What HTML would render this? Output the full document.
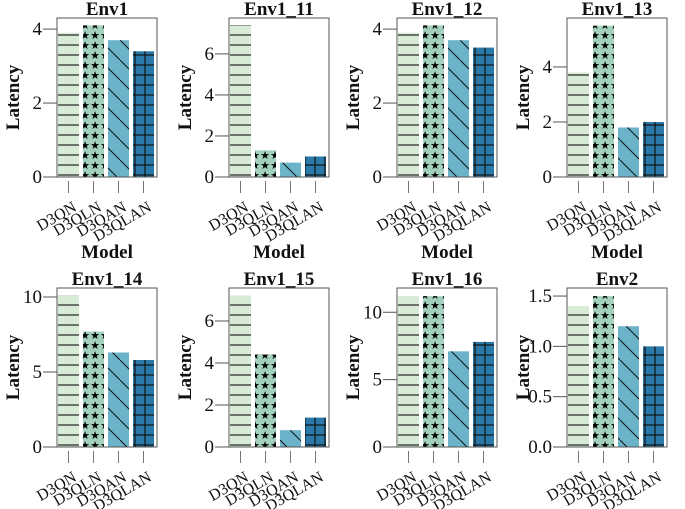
<!DOCTYPE html>
<html><head><meta charset="utf-8"><style>
body{margin:0;background:#fff;}
svg{display:block;}
text{font-family:"Liberation Serif","Times New Roman",serif;}
</style></head><body>
<svg id="c" width="685" height="509" viewBox="0 0 685 509">
<defs>
<pattern id="pH" width="10" height="10" patternUnits="userSpaceOnUse"><rect width="10" height="10" fill="#d8ebd6"/><line x1="0" y1="5" x2="10" y2="5" stroke="#222" stroke-width="1.2"/></pattern>
<pattern id="pS" width="10" height="10" patternUnits="userSpaceOnUse"><rect width="10" height="10" fill="#a3d1be"/><text x="5" y="9" font-size="11" text-anchor="middle" fill="#000">★</text></pattern>
<pattern id="pD" width="20" height="20" patternUnits="userSpaceOnUse"><rect width="20" height="20" fill="#6ab3c9"/><line x1="0" y1="0" x2="20" y2="20" stroke="#111" stroke-width="1"/></pattern>
<pattern id="pG" width="10" height="10" patternUnits="userSpaceOnUse"><rect width="10" height="10" fill="#2a79a8"/><line x1="0" y1="5" x2="10" y2="5" stroke="#111" stroke-width="1.2"/><line x1="5" y1="0" x2="5" y2="10" stroke="#111" stroke-width="1.2"/></pattern>
</defs>
</svg>
<script>
const categories = ["D3QN","D3QLN","D3QAN","D3QLAN"];
const titles = ["Env1","Env1_11","Env1_12","Env1_13","Env1_14","Env1_15","Env1_16","Env2"];
const vEnv1 = [3.9,4.1,3.7,3.4];
const vEnv1_11 = [7.4,1.3,0.7,1.0];
const vEnv1_12 = [3.9,4.1,3.7,3.5];
const vEnv1_13 = [3.8,5.5,1.8,2.0];
const vEnv1_14 = [10.1,7.7,6.3,5.8];
const vEnv1_15 = [7.2,4.4,0.8,1.4];
const vEnv1_16 = [11.2,11.2,7.1,7.8];
const vEnv2 = [1.4,1.5,1.2,1.0];
const yMax = [4.3,7.75,4.3,5.78,10.6,7.57,11.8,1.58];
const ticks = [[0,2,4],[0,2,4,6],[0,2,4],[0,2,4],[0,5,10],[0,2,4,6],[0,5,10],[0,0.5,1.0,1.5]];
const tickText = [["0","2","4"],["0","2","4","6"],["0","2","4"],["0","2","4"],["0","5","10"],["0","2","4","6"],["0","5","10"],["0.0","0.5","1.0","1.5"]];
const series = [vEnv1,vEnv1_11,vEnv1_12,vEnv1_13,vEnv1_14,vEnv1_15,vEnv1_16,vEnv2];
const fills = ["url(#pH)","url(#pS)","url(#pD)","url(#pG)"];
const NS="http://www.w3.org/2000/svg";
const svg=document.getElementById('c');
const FF='"Liberation Serif","Times New Roman",serif';
function mk(t,a,p){const e=document.createElementNS(NS,t);for(const k in a)e.setAttribute(k,a[k]);(p||svg).appendChild(e);return e;}
const colX=[57,229,397,567], rowY=[18,288], boxW=100, boxH=159;
for(let p=0;p<8;p++){
  const x0=colX[p%4], y0=rowY[Math.floor(p/4)], yb=y0+boxH;
  const g=mk('g',{});
  
  
  const ys=v=>yb-v/yMax[p]*boxH;
  const xs=i=>x0+1+i*25;
  series[p].forEach((v,i)=>{
    const r=mk('rect',{x:xs(i),y:ys(v),width:21,height:yb-ys(v),fill:fills[i]},g);
    
    
  });
  const box=mk('rect',{x:x0,y:y0,width:boxW,height:boxH,fill:'none',stroke:'#555','stroke-width':1},g);
  
  
  ticks[p].forEach((t,k)=>{
    const y=ys(t);
    mk('line',{x1:x0-14,y1:y,x2:x0,y2:y,stroke:'#555','stroke-width':1},g);
    const tx=mk('text',{x:x0-15,y:y+6,'font-size':19,'font-family':FF,'text-anchor':'end',fill:'#111'},g);
    tx.textContent=tickText[p][k];
    
    
  });
  categories.forEach((c,i)=>{
    const cx=xs(i)+10.5;
    mk('line',{x1:cx,y1:yb+4,x2:cx,y2:yb+16,stroke:'#777','stroke-width':1},g);
    const tx=mk('text',{x:cx+9,y:yb+33,'font-size':16,'font-family':FF,'text-anchor':'end',fill:'#111',transform:`rotate(-30 ${cx+9} ${yb+33})`},g);
    tx.textContent=c;
    
    
  });
  const tt=mk('text',{x:x0+boxW/2,y:y0-3,'font-size':19,'font-family':FF,'font-weight':'bold','text-anchor':'middle',fill:'#111'},g);
  tt.textContent=titles[p];
  
  
  const yl=mk('text',{x:0,y:0,'font-size':19,'font-family':FF,'font-weight':'bold','text-anchor':'middle',fill:'#111',transform:`translate(${x0-38} ${y0+boxH/2}) rotate(-90)`},g);
  yl.textContent='Latency';
  
  
  const xl=mk('text',{x:x0+boxW/2,y:yb+81,'font-size':19,'font-family':FF,'font-weight':'bold','text-anchor':'middle',fill:'#111'},g);
  xl.textContent='Model';
  
  
}
</script>
</body></html>
